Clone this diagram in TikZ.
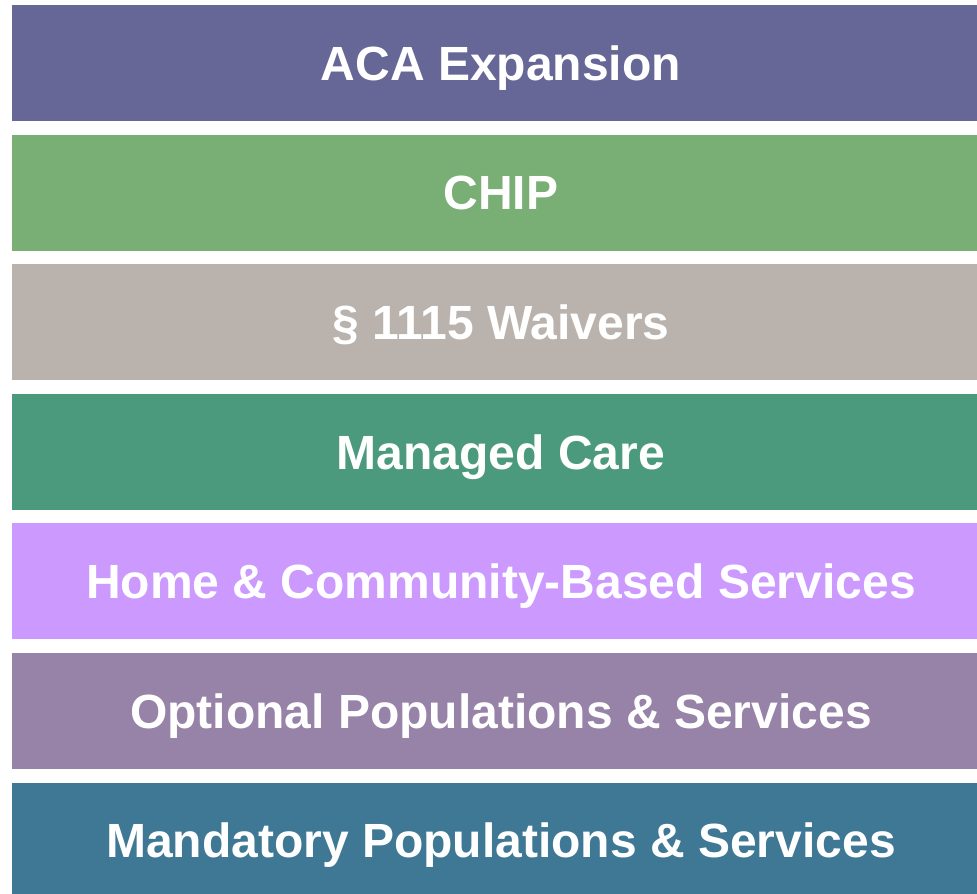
\documentclass[tikz,border=0pt]{standalone}
\usepackage{fontspec}
\setmainfont{Liberation Sans}
\usepackage{tikz}
\usetikzlibrary{positioning}

\definecolor{acapurple}{HTML}{676797}
\definecolor{chipgreen}{HTML}{79AE75}
\definecolor{waivergray}{HTML}{BAB3AD}
\definecolor{caregreen}{HTML}{4C9A7E}
\definecolor{hcbslilac}{HTML}{CC99FF}
\definecolor{optmauve}{HTML}{9782A8}
\definecolor{mandteal}{HTML}{3E7894}

\begin{document}
\begin{tikzpicture}[%
        x=1pt, y=-1pt,
        node distance=13.6pt,
        bar/.style={rectangle, minimum width=978pt, minimum height=116pt,
            inner sep=0pt, outer sep=0pt, text height=34.5pt, text depth=0pt,
            text=white, font=\fontsize{48}{50}\selectfont\bfseries}
        ]
        \useasboundingbox (0,0) rectangle (977,894);

        \node[bar, fill=acapurple, anchor=north west] (aca) at (12,5) {ACA Expansion};
        \node[bar, fill=chipgreen] (chip) [below=of aca] {CHIP};
        \node[bar, fill=waivergray] (waiver) [below=of chip] {\S\ 1115 Waivers};
        \node[bar, fill=caregreen] (care) [below=of waiver] {Managed Care};
        \node[bar, fill=hcbslilac] (hcbs) [below=of care] {Home \& Community-Based Services};
        \node[bar, fill=optmauve] (opt) [below=of hcbs] {Optional Populations \& Services};
        \node[bar, fill=mandteal] (mand) [below=of opt] {Mandatory Populations \& Services};

    \end{tikzpicture}
\end{document}
